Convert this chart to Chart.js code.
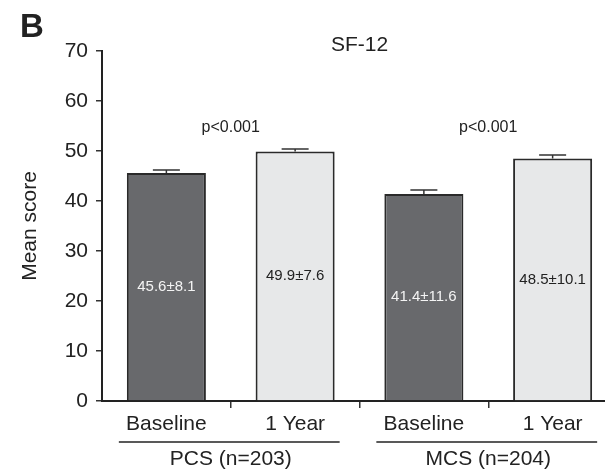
<!DOCTYPE html>
<html>
<head>
<meta charset="utf-8">
<script src="https://cdn.jsdelivr.net/npm/chart.js@4"></script>
<style>
  html, body { margin: 0; padding: 0; background: #fff; overflow: hidden; }
  #wrap { position: relative; width: 617px; height: 471px; }
</style>
</head>
<body>
<div id="wrap"><canvas id="sfChart"></canvas></div>
<script>
const categories = ['Baseline', '1 Year', 'Baseline', '1 Year'];
const groups = ['PCS (n=203)', 'MCS (n=204)'];
const means = [45.6, 49.9, 41.4, 48.5];
const sds = [8.1, 7.6, 11.6, 10.1];
const ses = [0.6, 0.5, 0.8, 0.7];
const pValues = ['p<0.001', 'p<0.001'];
const yTicks = [0, 10, 20, 30, 40, 50, 60, 70];

const darkFill = '#68696c';
const lightFill = '#e7e8e9';
const ink = '#222222';
const font = 'Liberation Sans, Arial, Helvetica, sans-serif';

const overlay = {
  id: 'overlay',
  afterDatasetsDraw(chart) {
    const ctx = chart.ctx;
    const y = chart.scales.y;
    const area = chart.chartArea;
    const bars = chart.getDatasetMeta(0).data;
    ctx.save();

    // error bars (mean + SE)
    ctx.strokeStyle = '#333';
    ctx.lineWidth = 1.5;
    bars.forEach((b, i) => {
      const top = y.getPixelForValue(means[i] + ses[i]);
      ctx.beginPath();
      ctx.moveTo(b.x, b.y);
      ctx.lineTo(b.x, top);
      ctx.moveTo(b.x - 13.5, top);
      ctx.lineTo(b.x + 13.5, top);
      ctx.stroke();
    });

    // mean ± sd inside bars
    ctx.font = '15px ' + font;
    ctx.textAlign = 'center';
    ctx.textBaseline = 'middle';
    bars.forEach((b, i) => {
      ctx.fillStyle = i % 2 === 0 ? '#f4f4f4' : ink;
      ctx.fillText(means[i] + '±' + sds[i], b.x, (b.y + b.base) / 2);
    });

    // p values over each pair
    ctx.fillStyle = ink;
    ctx.font = '16px ' + font;
    for (let g = 0; g < 2; g++) {
      const x = (bars[g * 2].x + bars[g * 2 + 1].x) / 2;
      ctx.fillText(pValues[g], x, y.getPixelForValue(54.6));
    }

    // title and panel letter
    ctx.font = '21px ' + font;
    ctx.fillText('SF-12', (area.left + area.right) / 2, area.top - 6);
    ctx.font = 'bold 33px ' + font;
    ctx.fillText('B', 32, 28);

    // group underlines
    ctx.strokeStyle = ink;
    ctx.lineWidth = 1.5;
    for (let g = 0; g < 2; g++) {
      const a = bars[g * 2], c = bars[g * 2 + 1];
      ctx.beginPath();
      ctx.moveTo(a.x - a.width / 2 - 8, 442);
      ctx.lineTo(c.x + c.width / 2 + 5, 442);
      ctx.stroke();
    }
    ctx.restore();
  }
};

new Chart(document.getElementById('sfChart'), {
  type: 'bar',
  data: {
    labels: categories,
    datasets: [{
      data: means,
      backgroundColor: means.map((_, i) => i % 2 === 0 ? darkFill : lightFill),
      borderColor: '#2a2a2a',
      borderWidth: 2,
      borderSkipped: 'bottom',
      categoryPercentage: 1.0,
      barPercentage: 0.614
    }]
  },
  options: {
    responsive: true,
    maintainAspectRatio: false,
    animation: false,
    layout: { padding: { top: 51, left: 0, right: 0, bottom: 0 } },
    plugins: { legend: { display: false }, tooltip: { enabled: false } },
    scales: {
      x: {
        offset: true,
        border: { color: ink, width: 2 },
        grid: {
          offset: true,
          drawOnChartArea: false,
          tickLength: 7,
          lineWidth: 1.5,
          color: c => c.index === 0 ? 'rgba(0,0,0,0)' : '#333'
        },
        ticks: { color: ink, padding: 4, font: { size: 21, family: font } },
        afterFit: s => { s.height = 36; }
      },
      group: {
        type: 'category',
        labels: groups,
        position: 'bottom',
        offset: true,
        border: { display: false },
        grid: { display: false, drawTicks: false },
        ticks: { color: ink, padding: 10, font: { size: 21, family: font } },
        afterFit: s => { s.height = 34; }
      },
      y: {
        min: 0,
        max: 70,
        afterBuildTicks: s => { s.ticks = yTicks.map(v => ({ value: v })); },
        border: { color: ink, width: 2 },
        grid: { drawOnChartArea: false, tickLength: 6, lineWidth: 1.5, color: '#333' },
        ticks: { color: ink, padding: 8, font: { size: 21, family: font } },
        title: {
          display: true,
          text: 'Mean score',
          color: ink,
          font: { size: 21, family: font },
          padding: { top: 18, bottom: 0 }
        },
        afterFit: s => { s.width = 102; }
      }
    }
  },
  plugins: [overlay]
});
</script>
</body>
</html>
